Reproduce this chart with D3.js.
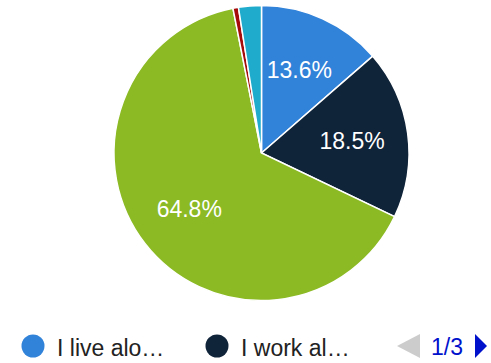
<!DOCTYPE html>
<html>
<head>
<meta charset="utf-8">
<script src="https://cdn.jsdelivr.net/npm/d3@7"></script>
<style>
  html, body { margin: 0; padding: 0; background: #fff; }
  svg { display: block; font-family: Arial, "Liberation Sans", sans-serif; }
</style>
</head>
<body>
<svg id="chart" width="491" height="363"></svg>
<script>
// Share of respondents per answer (percent)
const categories = ["I live alone", "I work alone", "I live with others", "Other", "Prefer not to say"];
const values = [13.6, 18.5, 64.8, 0.6, 2.5];
const colors = ["#3182d9", "#0f2339", "#8bba24", "#a50b0b", "#1eabcc"];
const legendLabels = ["I live alo\u2026", "I work al\u2026"];
const pageLabel = "1/3";

const svg = d3.select("#chart");
const cx = 261.5, cy = 153, radius = 147.5;

const pie = d3.pie().sort(null).value(d => d.value);
const arcs = pie(categories.map((c, i) => ({ name: c, value: values[i], color: colors[i] })));
const arc = d3.arc().innerRadius(0).outerRadius(radius);
const labelArc = d3.arc().innerRadius(radius * 0.62).outerRadius(radius * 0.62);

const g = svg.append("g").attr("transform", `translate(${cx},${cy})`);

g.selectAll("path")
  .data(arcs)
  .join("path")
  .attr("d", arc)
  .attr("fill", d => d.data.color)
  .attr("stroke", "#fff")
  .attr("stroke-width", 1.5);

// Percent labels on the slices large enough to hold them
g.selectAll("text")
  .data(arcs.filter(d => d.data.value >= 5))
  .join("text")
  .attr("transform", d => `translate(${labelArc.centroid(d)})`)
  .attr("text-anchor", "middle")
  .attr("y", 8)
  .attr("fill", "#fff")
  .attr("font-size", 23)
  .text(d => d.data.value.toFixed(1) + "%");

// Legend (first page)
const legend = svg.append("g");
const legendX = [33, 217];
legendLabels.forEach((lbl, i) => {
  legend.append("circle")
    .attr("cx", legendX[i]).attr("cy", 346).attr("r", 11.5)
    .attr("fill", colors[i]);
  legend.append("text")
    .attr("x", legendX[i] + 24).attr("y", 356)
    .attr("font-size", 23)
    .attr("fill", "#222")
    .text(lbl);
});

// Pager
legend.append("path")
  .attr("d", "M397,346 L420,334 L420,358 Z")
  .attr("fill", "#cccccc");
legend.append("text")
  .attr("x", 447).attr("y", 355)
  .attr("text-anchor", "middle")
  .attr("font-size", 23)
  .attr("fill", "#0011cc")
  .text(pageLabel);
legend.append("path")
  .attr("d", "M475,334 L487,346 L475,358 Z")
  .attr("fill", "#0011cc");
</script>
</body>
</html>
